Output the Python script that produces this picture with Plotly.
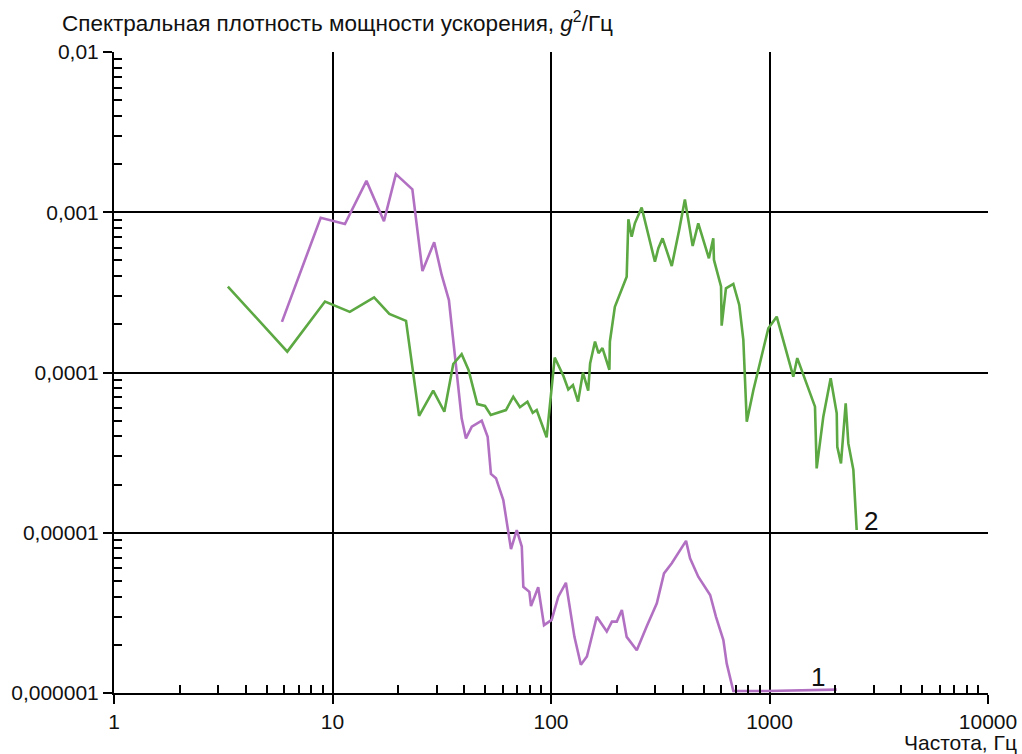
import plotly.graph_objects as go

# Acceleration PSD, curve 1 (purple)
freq_1 = [5.87, 8.83, 11.4, 14.3, 17.2, 19.5, 23.2, 25.8, 29.2, 31.6, 34.1, 39.0, 40.8,
          43.4, 48.2, 51.3, 53.1, 56.0, 60.5, 65.6, 69.7, 73.5, 74.7, 79.6, 81.0, 87.4,
          92.9, 100.7, 108, 117, 128, 137, 146, 162, 180, 190, 200, 211, 222, 247, 274,
          305, 329, 357, 415, 433, 472, 535, 569, 615, 637, 683, 971, 2031]
psd_1 = [2.07e-4, 9.25e-4, 8.45e-4, 1.57e-3, 8.8e-4, 1.73e-3, 1.39e-3, 4.3e-4, 6.5e-4,
         4.06e-4, 2.83e-4, 5.18e-5, 3.88e-5, 4.59e-5, 5.0e-5, 3.97e-5, 2.33e-5, 2.19e-5,
         1.6e-5, 7.9e-6, 1.04e-5, 8.2e-6, 4.6e-6, 4.28e-6, 3.49e-6, 4.57e-6, 2.65e-6,
         2.86e-6, 3.99e-6, 4.87e-6, 2.24e-6, 1.5e-6, 1.69e-6, 2.99e-6, 2.42e-6, 2.79e-6,
         2.79e-6, 3.3e-6, 2.24e-6, 1.85e-6, 2.6e-6, 3.63e-6, 5.58e-6, 6.45e-6, 8.9e-6,
         6.92e-6, 5.32e-6, 4.09e-6, 2.99e-6, 2.14e-6, 1.53e-6, 1.03e-6, 1.03e-6, 1.05e-6]

# Acceleration PSD, curve 2 (green)
freq_2 = [3.32, 6.21, 9.24, 12.0, 15.5, 18.2, 21.7, 24.9, 28.9, 32.5, 35.7, 39.0, 41.9,
          46.0, 49.9, 53.0, 62.2, 67.2, 72.1, 78.0, 82.5, 86.0, 95.5, 104, 114, 120, 126,
          133, 140, 148, 151, 159, 165, 172, 185, 186, 196, 222, 226, 234, 242, 260, 299,
          310, 324, 357, 386, 410, 445, 472, 528, 553, 557, 600, 604, 632, 683, 727, 759,
          787, 844, 921, 988, 1079, 1285, 1340, 1615, 1644, 1763, 1905, 2031, 2043, 2124,
          2232, 2295, 2420, 2506]
psd_2 = [3.44e-4, 1.35e-4, 2.77e-4, 2.39e-4, 2.94e-4, 2.32e-4, 2.10e-4, 5.36e-5, 7.7e-5,
         5.69e-5, 1.13e-4, 1.30e-4, 1.04e-4, 6.35e-5, 6.18e-5, 5.43e-5, 5.83e-5, 7.06e-5,
         6.07e-5, 6.58e-5, 5.61e-5, 5.83e-5, 3.94e-5, 1.24e-4, 9.5e-5, 7.85e-5, 8.35e-5,
         6.58e-5, 9.97e-5, 7.7e-5, 1.14e-4, 1.56e-4, 1.32e-4, 1.42e-4, 1.04e-4, 1.56e-4,
         2.57e-4, 3.96e-4, 9.04e-4, 7.03e-4, 8.53e-4, 1.07e-3, 4.91e-4, 5.96e-4, 6.87e-4,
         4.62e-4, 7.75e-4, 1.2e-3, 6.16e-4, 8.53e-4, 5.16e-4, 6.87e-4, 5.04e-4, 3.44e-4,
         1.96e-4, 3.35e-4, 3.57e-4, 2.64e-4, 1.6e-4, 4.93e-5, 7.78e-5, 1.26e-4, 1.89e-4,
         2.23e-4, 9.42e-5, 1.23e-4, 6.12e-5, 2.52e-5, 5.3e-5, 9.2e-5, 5.56e-5, 3.44e-5,
         2.71e-5, 6.43e-5, 3.61e-5, 2.47e-5, 1.04e-5]

x_tick_vals = [1, 10, 100, 1000, 10000]
x_tick_text = ["1", "10", "100", "1000", "10000"]
y_tick_vals = [1e-6, 1e-5, 1e-4, 1e-3, 1e-2]
y_tick_text = ["0,000001", "0,00001", "0,0001", "0,001", "0,01"]

curve_labels = ["1", "2"]

FONT = "Liberation Sans, Arial, sans-serif"
INK = "#111111"

fig = go.Figure()
fig.add_trace(go.Scatter(x=freq_1, y=psd_1, mode="lines",
                         line=dict(color="#b270c2", width=2.6), showlegend=False))
fig.add_trace(go.Scatter(x=freq_2, y=psd_2, mode="lines",
                         line=dict(color="#5ca842", width=2.6), showlegend=False))

x_minor = [m * 10 ** d for d in range(0, 4) for m in range(2, 10)]
y_minor = [m * 10 ** d for d in range(-6, -2) for m in range(2, 10)]

axis_common = dict(
    showline=True, linecolor="black", linewidth=2,
    showgrid=True, gridcolor="black", gridwidth=2,
    ticks="outside", ticklen=9, tickwidth=2, tickcolor="black",
    tickfont=dict(family=FONT, size=21, color=INK),
    mirror=False, zeroline=False, automargin=False,
)

fig.update_xaxes(type="log", range=[0, 4], tickmode="array",
                 tickvals=x_tick_vals, ticktext=x_tick_text,
                 minor=dict(tickmode="array", tickvals=x_minor, ticks="inside",
                            ticklen=8, tickwidth=2, tickcolor="black", showgrid=False),
                 **axis_common)
fig.update_yaxes(type="log", range=[-6, -2], tickmode="array",
                 tickvals=y_tick_vals, ticktext=y_tick_text,
                 minor=dict(tickmode="array", tickvals=y_minor, ticks="inside",
                            ticklen=8, tickwidth=2, tickcolor="black", showgrid=False),
                 **axis_common)

annotations = [
    dict(xref="paper", yref="paper", x=-0.0618, y=1.047, xanchor="left", yanchor="middle",
         text="Спектральная плотность мощности ускорения, <i>g</i><sup>2</sup>/Гц",
         showarrow=False, font=dict(family=FONT, size=22.5, color=INK)),
    dict(xref="paper", yref="paper", x=1.036, y=-0.078, xanchor="right", yanchor="middle",
         text="Частота, Гц", showarrow=False, font=dict(family=FONT, size=21, color=INK)),
    dict(x=3.222, y=-5.90, xref="x", yref="y", text=curve_labels[0], showarrow=False,
         font=dict(family=FONT, size=26, color=INK)),
    dict(x=3.466, y=-4.927, xref="x", yref="y", text=curve_labels[1], showarrow=False,
         font=dict(family=FONT, size=26, color=INK)),
]

fig.update_layout(
    width=1022, height=754, autosize=False,
    margin=dict(l=114, r=34, t=52, b=61, autoexpand=False),
    paper_bgcolor="white", plot_bgcolor="white",
    annotations=annotations,
    font=dict(family=FONT, color=INK),
)

fig.write_html("out.html", config={"responsive": False})
